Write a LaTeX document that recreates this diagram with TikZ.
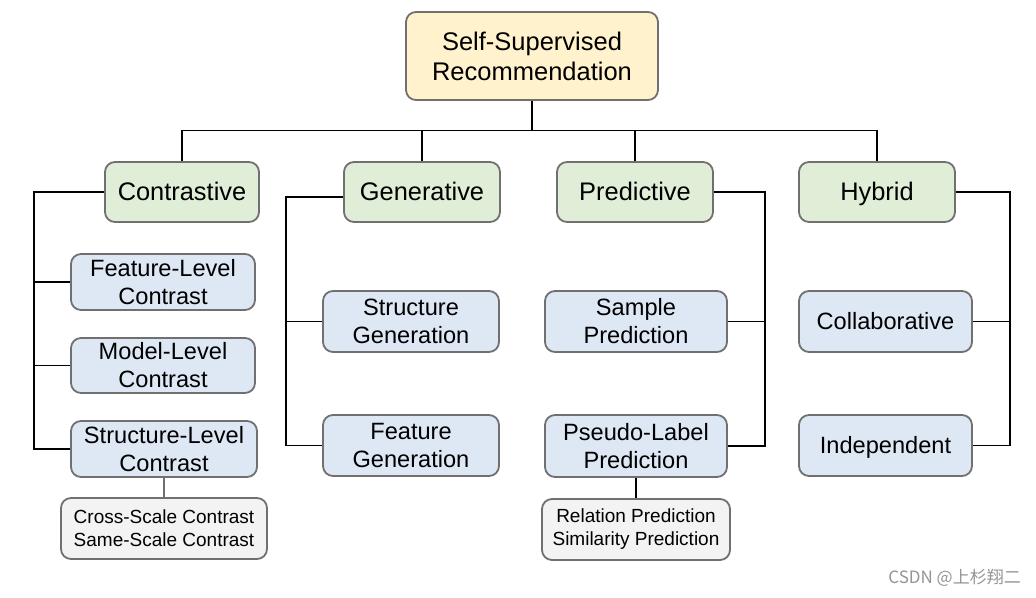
\documentclass[tikz,border=0pt]{standalone}
\usepackage{fontspec}
\setmainfont{Liberation Sans}
\newfontfamily\cjk{Noto Sans CJK SC}
\usetikzlibrary{calc}
\definecolor{bordergray}{HTML}{707070}
\definecolor{rootfill}{HTML}{FFF2CC}
\definecolor{catfill}{HTML}{E0EED8}
\definecolor{subfill}{HTML}{DEE8F5}
\definecolor{leaffill}{HTML}{F3F3F3}
\tikzset{
  box/.style={draw=bordergray, line width=1.8pt, rounded corners=10pt, align=center, inner sep=0pt, font=\fontsize{23.6}{28}\selectfont},
  rootbox/.style={box, fill=rootfill, font=\fontsize{25.5}{30}\selectfont},
  catbox/.style={box, fill=catfill, font=\fontsize{25.4}{28}\selectfont, text height=16pt, text depth=0pt},
  subbox/.style={box, fill=subfill},
  onebox/.style={subbox, text height=16pt, text depth=0pt},
  leafbox/.style={box, fill=leaffill, font=\fontsize{19}{23}\selectfont},
  link/.style={draw=black, line width=1.1pt},
  leaflink/.style={draw=bordergray, line width=1.5pt},
}
\begin{document}
\begin{tikzpicture}[x=1pt,y=-1pt]
\useasboundingbox (0,0) rectangle (1036,597);
\node[rootbox, minimum width=252pt, minimum height=88pt] (root) at (532,56) {Self-Supervised\\Recommendation};
\node[catbox, minimum width=154pt, minimum height=60pt] (contr) at (182,192) {Contrastive};
\node[catbox, minimum width=156pt, minimum height=60pt] (gen) at (422,192) {Generative};
\node[catbox, minimum width=156pt, minimum height=60pt] (pred) at (635,192) {Predictive};
\node[catbox, minimum width=156pt, minimum height=60pt] (hyb) at (877,192) {Hybrid};
\node[subbox, minimum width=184pt, minimum height=56pt] (feat) at (163,282) {Feature-Level\\Contrast};
\node[subbox, minimum width=184pt, minimum height=55pt] (model) at (163,365.5) {Model-Level\\Contrast};
\node[subbox, minimum width=186pt, minimum height=56pt] (struct) at (164,449) {Structure-Level\\Contrast};
\node[leafbox, minimum width=206pt, minimum height=61pt] (cross) at (164,528.5) {\raisebox{-2pt}{Cross-Scale Contrast}\\\raisebox{-2pt}{Same-Scale Contrast}};
\node[subbox, minimum width=176pt, minimum height=61pt] (sgen) at (411,321.5) {Structure\\Generation};
\node[subbox, minimum width=176pt, minimum height=61pt] (fgen) at (411,445.5) {Feature\\Generation};
\node[subbox, minimum width=182pt, minimum height=61pt] (samp) at (636,321.5) {Sample\\Prediction};
\node[subbox, minimum width=182pt, minimum height=62pt] (pseudo) at (636,446) {Pseudo-Label\\Prediction};
\node[leafbox, minimum width=188pt, minimum height=61pt] (rel) at (636,529.5) {\raisebox{-2pt}{Relation Prediction}\\\raisebox{-2pt}{Similarity Prediction}};
\node[onebox, minimum width=173pt, minimum height=61pt] (coll) at (885.5,321.5) {Collaborative};
\node[onebox, minimum width=173pt, minimum height=61pt] (indep) at (885.5,445.5) {Independent};
% top tree
\coordinate (bus) at ($(root.south)+(0,30)$);
\draw[link] (root.south) -- (bus);
\draw[link] (contr.north) |- (bus) -| (hyb.north);
\draw[link] (gen.north) -- (gen.north |- bus);
\draw[link] (pred.north) -- (pred.north |- bus);
% contrastive
\coordinate (cl) at (34,192);
\draw[link] (contr.west) -- (cl) |- (struct.west);
\draw[link] (cl |- feat.west) -- (feat.west);
\draw[link] (cl |- model.west) -- (model.west);
% generative
\coordinate (gl) at (286,197);
\draw[link] ($(gen.west)+(0,5)$) -- (gl) |- (fgen.west);
\draw[link] (gl |- sgen.west) -- (sgen.west);
% predictive
\coordinate (pr) at (765,192);
\draw[link] (pred.east) -- (pr) |- (pseudo.east);
\draw[link] (pr |- samp.east) -- (samp.east);
% hybrid
\coordinate (hr) at (1010,192);
\draw[link] (hyb.east) -- (hr) |- (indep.east);
\draw[link] (hr |- coll.east) -- (coll.east);
% leaves
\draw[leaflink] (struct.south) -- (cross.north);
\draw[link] (pseudo.south) -- (rel.north);
% watermark
\node[anchor=east, text=black!42, font=\cjk\fontsize{17}{20}\selectfont, inner sep=0pt] (wm) at (1021,578) {CSDN @上杉翔二};
\end{tikzpicture}
\end{document}
